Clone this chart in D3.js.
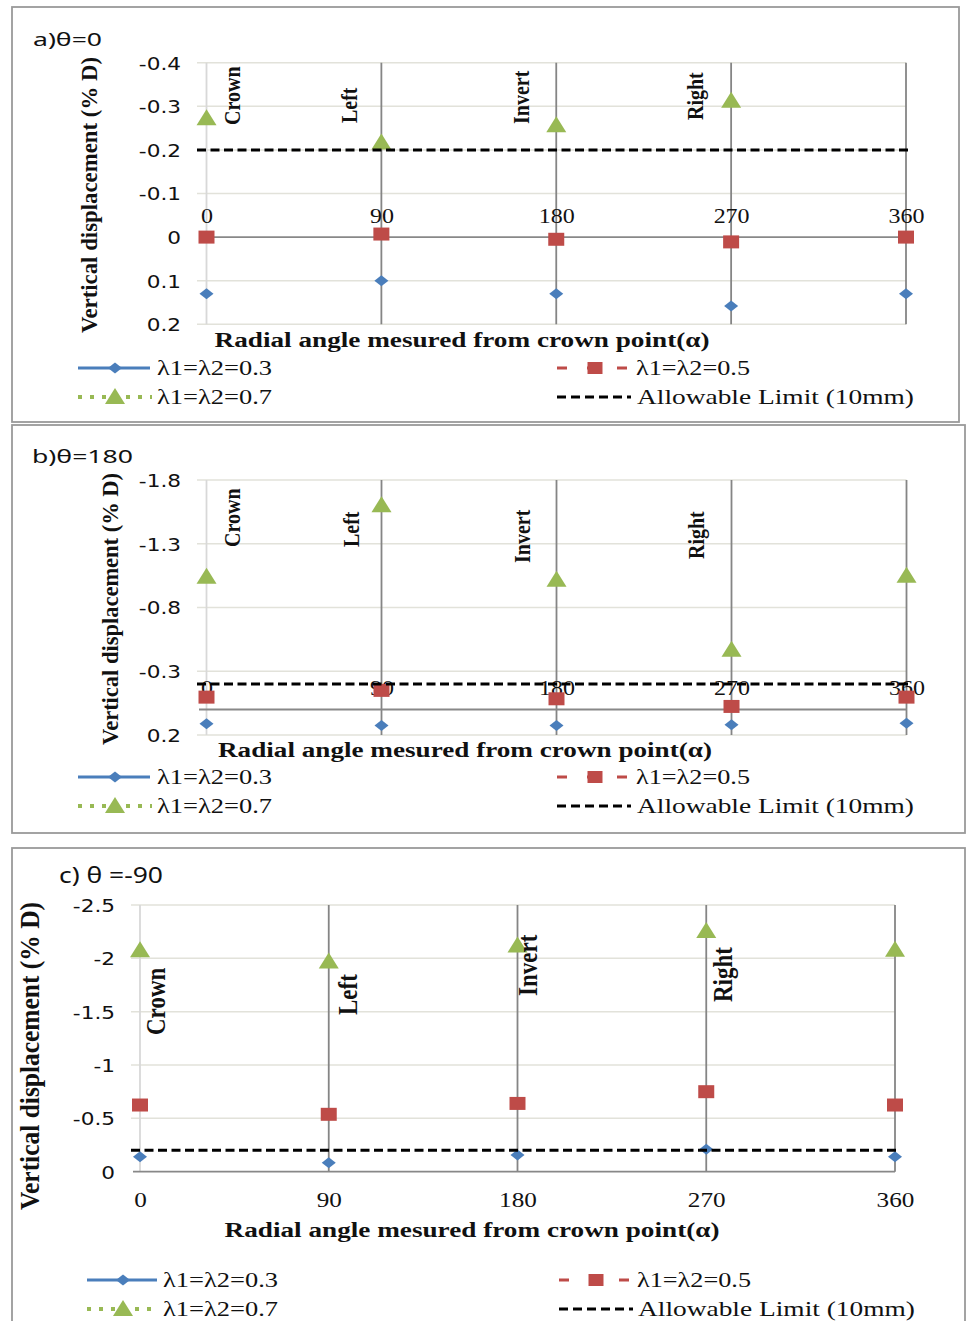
<!DOCTYPE html>
<html>
<head>
<meta charset="utf-8">
<script src="https://cdn.jsdelivr.net/npm/d3@7"></script>
<style>
  body { margin: 0; background: #fff; }
</style>
</head>
<body>
<div id="chart"></div>
<script>
// ---- data ----
const angles = [0, 90, 180, 270, 360]
const regionNames = ['Crown', 'Left', 'Invert', 'Right']
const regionAngles = [0, 90, 180, 270]
const seriesNames = ['λ1=λ2=0.3', 'λ1=λ2=0.5', 'λ1=λ2=0.7']
const limitName = 'Allowable Limit (10mm)'
const limitValue = -0.2
const xTitle = 'Radial angle mesured from crown point(α)'
const yTitle = 'Vertical displacement (% D)'

// a) theta = 0
const a03 = [0.13, 0.10, 0.13, 0.158, 0.13]
const a05 = [0, -0.007, 0.005, 0.011, 0]
const a07 = [-0.275, -0.219, -0.259, -0.315, null]
const aTicks = [-0.4, -0.3, -0.2, -0.1, 0, 0.1, 0.2]

// b) theta = 180
const b03 = [0.112, 0.125, 0.125, 0.12, 0.107]
const b05 = [-0.097, -0.15, -0.084, -0.024, -0.097]
const b07 = [-1.05, -1.61, -1.025, -0.476, -1.056]
const bTicks = [-1.8, -1.3, -0.8, -0.3, 0.2]

// c) theta = -90
const c03 = [-0.14, -0.084, -0.156, -0.21, -0.14]
const c05 = [-0.625, -0.538, -0.64, -0.75, -0.625]
const c07 = [-2.085, -1.98, -2.13, -2.265, -2.09]
const cTicks = [-2.5, -2, -1.5, -1, -0.5, 0]

// ---- look ----
const SX = 1.2   // the source picture is stretched sideways
const blue = '#4a7ebb', red = '#be4b48', green = '#98b954'
const serif = '"Liberation Serif", "Times New Roman", serif'
const sans = '"DejaVu Sans", Verdana, sans-serif'
const markerPath = {
  diamond: 'M0,-5.5L7,0L0,5.5L-7,0Z',
  square: 'M-8,-6.5H8V6.5H-8Z',
  triangle: 'M0,-8L10,8H-10Z'
}

const svg = d3.select('#chart').append('svg')
  .attr('width', 968)
  .attr('height', 1321)

// text helper, stretched sideways like the source
function addText(parent, str, x, y, o) {
  const t = parent.append('text')
    .attr('transform', 'translate(' + x + ',' + y + ') scale(' + SX + ',1)' + (o.rotate ? ' rotate(-90)' : ''))
    .attr('font-family', o.family || serif)
    .attr('font-size', o.size)
    .attr('font-weight', o.weight || 'normal')
    .attr('text-anchor', o.anchor || 'start')
    .attr('fill', '#111')
    .text(str)
  if (o.len) {
    t.attr('textLength', o.rotate ? o.len : o.len / SX)
      .attr('lengthAdjust', 'spacingAndGlyphs')
  }
  return t
}

const panels = [
  {
    title: 'a)θ=0', titlePos: [33, 46, 69, 19],
    box: [12, 7, 947, 415],
    s03: a03, s05: a05, s07: a07, ticks: aTicks,
    xRange: [206.5, 906], yDomain: [-0.4, 0.2], yRange: [62.7, 324.3],
    gridLeft: 197, yTickX: 181, xTickBase: 222.7, xTickSize: 20,
    yTitlePos: [97, 195, 276, 20], xTitlePos: [462, 347, 495, 20],
    legendY: [368, 397], legendX: [78, 150, 115, 157], legendR: [557, 629, 595, 636],
    regionDx: [33, -24, -27, -28], regionBottom: [125, 123, 124, 120], regionSize: 20
  },
  {
    title: 'b)θ=180', titlePos: [32, 463, 101, 19],
    box: [12, 425, 953, 408],
    s03: b03, s05: b05, s07: b07, ticks: bTicks,
    xRange: [206.5, 906.5], yDomain: [-1.8, 0.2], yRange: [480, 735],
    gridLeft: 197, yTickX: 181, xTickBase: 695, xTickSize: 20,
    yTitlePos: [118, 609, 272, 20], xTitlePos: [465, 757, 494, 20],
    legendY: [777, 806], legendX: [78, 150, 115, 157], legendR: [557, 629, 595, 636],
    regionDx: [33.5, -23, -27, -28], regionBottom: [547, 547, 563, 559], regionSize: 20
  },
  {
    title: 'c) θ =-90', titlePos: [59, 883, 104, 22],
    box: [12, 848, 953, 490],
    s03: c03, s05: c05, s07: c07, ticks: cTicks,
    xRange: [140, 895], yDomain: [-2.5, 0], yRange: [905, 1171.7],
    gridLeft: 131, yTickX: 115, xTickBase: 1207, xTickSize: 21,
    yTitlePos: [39, 1056, 308, 22], xTitlePos: [472, 1237, 495, 21],
    legendY: [1280, 1309], legendX: [87, 157, 123, 163], legendR: [559, 631, 596, 637],
    regionDx: [25, 28, 19.5, 26], regionBottom: [1035, 1015, 996, 1002], regionSize: 23
  }
]

panels.forEach(p => {
  const g = svg.append('g')

  // panel frame
  g.append('rect')
    .attr('x', p.box[0]).attr('y', p.box[1])
    .attr('width', p.box[2]).attr('height', p.box[3])
    .attr('fill', 'none')
    .attr('stroke', '#9a9a9a')
    .attr('stroke-width', 1.8)

  const x = d3.scaleLinear().domain([0, 360]).range(p.xRange)
  const y = d3.scaleLinear().domain(p.yDomain).range(p.yRange)
  const xRight = x(360)

  // horizontal gridlines
  g.selectAll('.hgrid')
    .data(p.ticks.filter(t => t !== 0))
    .join('line')
    .attr('x1', p.gridLeft).attr('x2', xRight)
    .attr('y1', d => y(d)).attr('y2', d => y(d))
    .attr('stroke', '#e2e2da')
    .attr('stroke-width', 1.5)

  // vertical lines at each angle
  g.selectAll('.vline')
    .data(angles)
    .join('line')
    .attr('x1', d => x(d)).attr('x2', d => x(d))
    .attr('y1', y(p.yDomain[0])).attr('y2', y(p.yDomain[1]))
    .attr('stroke', d => d === 0 ? '#d8d8d8' : '#858585')
    .attr('stroke-width', 1.8)

  // zero line
  g.append('line')
    .attr('x1', p.gridLeft + 2).attr('x2', xRight)
    .attr('y1', y(0)).attr('y2', y(0))
    .attr('stroke', '#888')
    .attr('stroke-width', 1.8)

  // y axis labels
  const yAxis = d3.axisLeft(y).tickValues(p.ticks).tickSize(0).tickFormat(d => String(d))
  const ya = g.append('g')
    .attr('transform', 'translate(' + p.yTickX + ',0)')
    .call(yAxis)
  ya.select('.domain').remove()
  ya.selectAll('text')
    .attr('x', 0).attr('dy', '0.36em')
    .attr('transform', 'scale(' + SX + ',1)')
    .attr('font-family', sans)
    .attr('font-size', 18)
    .attr('fill', '#111')

  // x axis labels
  const xAxis = d3.axisBottom(x).tickValues(angles).tickSize(0).tickFormat(d => String(d))
  const xa = g.append('g').attr('transform', 'translate(0,' + p.xTickBase + ')').call(xAxis)
  xa.select('.domain').remove()
  xa.selectAll('text')
    .attr('y', 0).attr('dy', 0)
    .attr('transform', 'scale(' + SX + ',1)')
    .attr('font-family', serif)
    .attr('font-size', p.xTickSize)
    .attr('fill', '#111')

  // series
  const series = [
    { values: p.s03, shape: 'diamond', color: blue },
    { values: p.s05, shape: 'square', color: red },
    { values: p.s07, shape: 'triangle', color: green }
  ]
  series.forEach(s => {
    g.append('g').selectAll('path')
      .data(angles.map((a, i) => ({ a: a, v: s.values[i] })).filter(d => d.v !== null))
      .join('path')
      .attr('d', markerPath[s.shape])
      .attr('transform', d => 'translate(' + x(d.a) + ',' + y(d.v) + ')')
      .attr('fill', s.color)
  })

  // allowable limit
  g.append('line')
    .attr('x1', p.gridLeft).attr('x2', xRight + 2)
    .attr('y1', y(limitValue)).attr('y2', y(limitValue))
    .attr('stroke', '#000')
    .attr('stroke-width', 3)
    .attr('stroke-dasharray', '9,4.5')

  // region names
  regionNames.forEach((name, i) => {
    addText(g, name, x(regionAngles[i]) + p.regionDx[i], p.regionBottom[i],
      { size: p.regionSize, weight: 'bold', rotate: true })
  })

  // titles
  addText(g, p.title, p.titlePos[0], p.titlePos[1], { family: '"Noto Sans", sans-serif', size: p.titlePos[3], len: p.titlePos[2] })
  addText(g, yTitle, p.yTitlePos[0], p.yTitlePos[1],
    { size: p.yTitlePos[3], weight: 'bold', rotate: true, anchor: 'middle', len: p.yTitlePos[2] })
  addText(g, xTitle, p.xTitlePos[0], p.xTitlePos[1],
    { size: p.xTitlePos[3], weight: 'bold', anchor: 'middle', len: p.xTitlePos[2] })

  // legend
  const [lx1, lx2, lm, lt] = p.legendX
  const [rx1, rx2, rm, rt] = p.legendR
  const [r1, r2] = p.legendY

  g.append('line').attr('x1', lx1).attr('x2', lx2).attr('y1', r1).attr('y2', r1)
    .attr('stroke', blue).attr('stroke-width', 3)
  g.append('path').attr('d', markerPath.diamond)
    .attr('transform', 'translate(' + lm + ',' + r1 + ')').attr('fill', blue)
  addText(g, seriesNames[0], lt, r1 + 7, { size: 21, len: 115 })

  g.append('line').attr('x1', rx1).attr('x2', rx2).attr('y1', r1).attr('y2', r1)
    .attr('stroke', red).attr('stroke-width', 3).attr('stroke-dasharray', '10,20')
  g.append('path').attr('d', 'M-7.5,-6H7.5V6H-7.5Z')
    .attr('transform', 'translate(' + rm + ',' + r1 + ')').attr('fill', red)
  addText(g, seriesNames[1], rt, r1 + 7, { size: 21, len: 114 })

  g.append('line').attr('x1', lx1).attr('x2', lx2 + 2).attr('y1', r2).attr('y2', r2)
    .attr('stroke', green).attr('stroke-width', 4).attr('stroke-dasharray', '4,8')
  g.append('path').attr('d', markerPath.triangle)
    .attr('transform', 'translate(' + lm + ',' + (r2 - 1) + ')').attr('fill', green)
  addText(g, seriesNames[2], lt, r2 + 7, { size: 21, len: 115 })

  g.append('line').attr('x1', rx1).attr('x2', rx2 + 2).attr('y1', r2).attr('y2', r2)
    .attr('stroke', '#000').attr('stroke-width', 3).attr('stroke-dasharray', '9,5')
  addText(g, limitName, rt + 1, r2 + 7, { size: 21, len: 277 })
})
</script>
</body>
</html>
